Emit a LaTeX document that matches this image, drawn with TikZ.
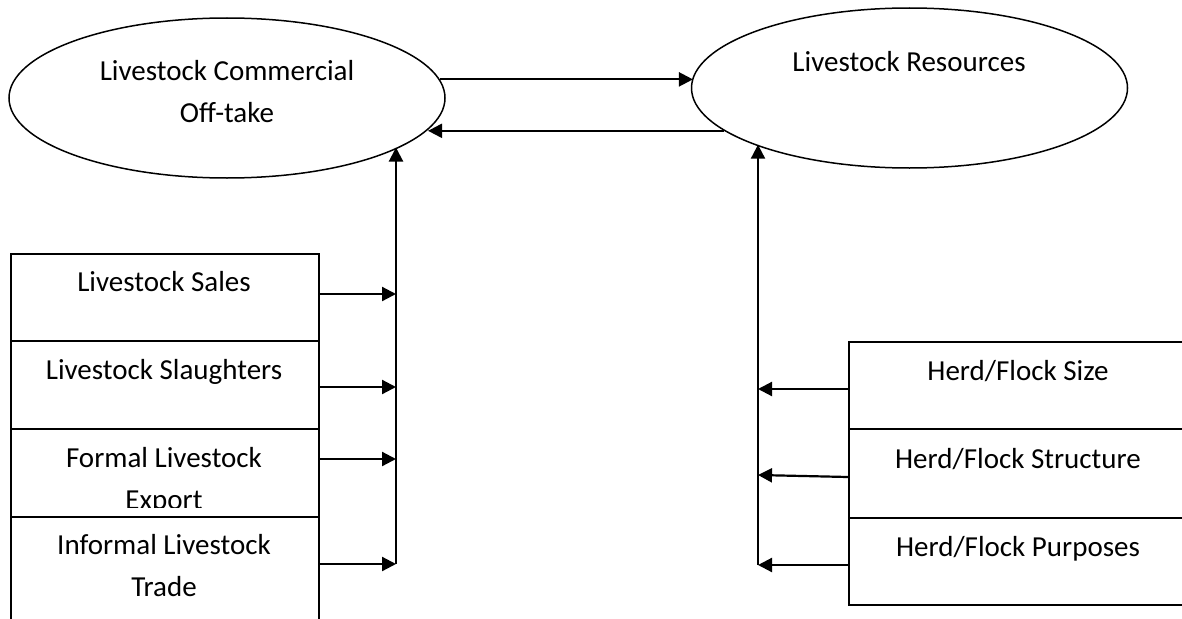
\documentclass[tikz,border=0pt]{standalone}
\usepackage{fontspec}
\setmainfont{Carlito}
\usetikzlibrary{shapes.geometric,arrows.meta}
\begin{document}
\begin{tikzpicture}[x=1pt,y=-1pt,
  ell/.style={draw,ellipse,line width=1.5pt,minimum width=436pt,minimum height=160pt,inner sep=0pt},
  boxn/.style={draw,rectangle,line width=1.8pt,inner sep=0pt,anchor=north west},
  lbl/.style={anchor=base,align=center,inner sep=0pt,font=\fontsize{29}{42}\selectfont},
  arr/.style={line width=2.2pt,-{Triangle[length=14pt,width=14pt]}}]
\useasboundingbox (0,0) rectangle (1182,618);
\clip (0,0) rectangle (1182,618);
% ellipses
\node[ell] (lce) at (227,98) {};
\node[ell] (rce) at (909.5,88) {};
\node[lbl] (lcet) at (227,122) {Livestock Commercial\\Off-take};
\node[lbl] (rcet) at (909,71) {Livestock Resources};
% left boxes
\node[boxn,minimum width=308pt,minimum height=87pt] (b1) at (10,253) {};
\node[boxn,minimum width=308pt,minimum height=88pt] (b2) at (10,340) {};
\node[boxn,minimum width=308pt,minimum height=88pt] (b3) at (10,428) {};
\node[boxn,minimum width=308pt,minimum height=130pt] (b4) at (10,516) {};
\node[lbl] (b1t) at (164,291) {Livestock Sales};
\node[lbl] (b2t) at (164,379) {Livestock Slaughters};
\begin{scope}
\clip (10,428) rectangle (318,507);
\node[lbl] (b3t) at (164,509) {Formal Livestock\\Export};
\end{scope}
\node[lbl] (b4t) at (164,596) {Informal Livestock\\Trade};
% right boxes
\node[boxn,minimum width=340pt,minimum height=87pt] (r1) at (848,341) {};
\node[boxn,minimum width=340pt,minimum height=89pt] (r2) at (848,428) {};
\node[boxn,minimum width=340pt,minimum height=87pt] (r3) at (848,517) {};
\node[lbl] (r1t) at (1018,380) {Herd/Flock Size};
\node[lbl] (r2t) at (1018,468) {Herd/Flock Structure};
\node[lbl] (r3t) at (1018,556) {Herd/Flock Purposes};
% trunk coordinates
\coordinate (t1) at (396,294);
\coordinate (t2) at (396,387);
\coordinate (t3) at (396,459);
\coordinate (t4) at (396,564);
\coordinate (s1) at (758,389);
\coordinate (s2) at (758,475);
\coordinate (s3) at (758,565);
% top arrows
\draw[arr] (lce.5.13) -- (lce.5.13 -| rce.177.6);
\draw[arr] (rce.193.2) -- (rce.193.2 -| lce.-9.43);
% trunks
\draw[arr] (t4) -- (t4 |- lce.-16.6);
\draw[arr] (s3) -- (s3 |- rce.200.75);
% left feeders
\draw[arr] (b1.east |- t1) -- (t1);
\draw[arr] (b2.east |- t2) -- (t2);
\draw[arr] (b3.east |- t3) -- (t3);
\draw[arr] (b4.east |- t4) -- (t4);
% right feeders
\draw[arr] (r1.west |- s1) -- (s1);
\draw[arr] ([yshift=-2pt]r2.west |- s2) -- (s2);
\draw[arr] (r3.west |- s3) -- (s3);
\end{tikzpicture}
\end{document}
